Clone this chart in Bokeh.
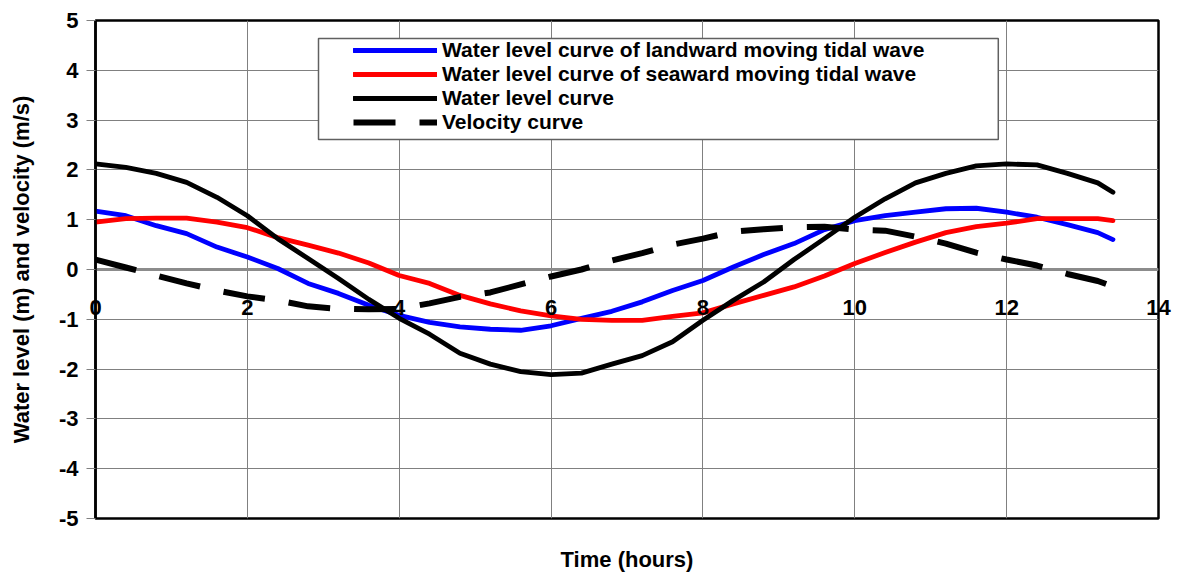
from bokeh.plotting import figure
from bokeh.models import (Legend, LegendItem, BoxAnnotation, FixedTicker,
                          Range1d, PrintfTickFormatter, Span)
from bokeh.embed import file_html
from bokeh.resources import INLINE

# ---------------- data ----------------
time_hours = [0.0, 0.4, 0.8, 1.2, 1.6, 2.0, 2.4, 2.8, 3.2, 3.6, 4.0, 4.4,
              4.8, 5.2, 5.6, 6.0, 6.4, 6.8, 7.2, 7.6, 8.0, 8.4, 8.8, 9.2,
              9.6, 10.0, 10.4, 10.8, 11.2, 11.6, 12.0, 12.4, 12.8, 13.2, 13.4]

landward = [1.17, 1.08, 0.88, 0.72, 0.45, 0.25, 0.02, -0.28, -0.48, -0.72,
            -0.92, -1.06, -1.15, -1.20, -1.22, -1.13, -0.98, -0.84, -0.65,
            -0.42, -0.22, 0.05, 0.30, 0.52, 0.80, 0.98, 1.08, 1.15, 1.22,
            1.23, 1.15, 1.05, 0.90, 0.74, 0.60]

seaward = [0.95, 1.02, 1.03, 1.03, 0.95, 0.84, 0.64, 0.49, 0.33, 0.13,
           -0.12, -0.28, -0.52, -0.69, -0.83, -0.93, -1.00, -1.02, -1.02,
           -0.94, -0.87, -0.69, -0.52, -0.35, -0.13, 0.12, 0.34, 0.55, 0.74,
           0.86, 0.93, 1.02, 1.02, 1.02, 0.98]

water_level = [2.12, 2.05, 1.93, 1.75, 1.45, 1.08, 0.62, 0.22, -0.18, -0.60,
               -0.98, -1.30, -1.68, -1.90, -2.05, -2.11, -2.08, -1.90, -1.73,
               -1.45, -1.02, -0.62, -0.25, 0.20, 0.62, 1.05, 1.42, 1.74, 1.93,
               2.08, 2.12, 2.10, 1.93, 1.74, 1.55]

velocity = [0.20, 0.04, -0.12, -0.28, -0.42, -0.54, -0.62, -0.74, -0.79,
            -0.80, -0.79, -0.68, -0.55, -0.46, -0.30, -0.14, 0.00, 0.18,
            0.33, 0.50, 0.62, 0.76, 0.81, 0.85, 0.86, 0.80, 0.78, 0.66,
            0.52, 0.34, 0.20, 0.08, -0.09, -0.23, -0.34]

x_ticks = [0, 2, 4, 6, 8, 10, 12, 14]
y_ticks = [-5, -4, -3, -2, -1, 0, 1, 2, 3, 4, 5]
x_axis_crossing = 0

series_labels = ["Water level curve of landward moving tidal wave",
                 "Water level curve of seaward moving tidal wave",
                 "Water level curve",
                 "Velocity curve"]

x_title = "Time (hours)"
y_title = "Water level (m) and velocity (m/s)"

# ---------------- figure ----------------
FONT = "Liberation Sans"
GRID = "#808080"

p = figure(width=1187, height=574, output_backend="svg", toolbar_location=None,
           x_range=Range1d(0, 14), y_range=Range1d(-5, 5),
           min_border_left=95, min_border_right=29, min_border_top=20,
           min_border_bottom=56)

p.background_fill_color = "white"
p.border_fill_color = "white"
p.outline_line_color = "black"
p.outline_line_width = 2.5
p.outline_line_alpha = 1

# bottom axis: its tick labels are pulled up (negative standoff) so that
# they sit just below the y = 0 line, as in the reference
xa = p.xaxis[0]
xa.ticker = FixedTicker(ticks=x_ticks)
xa.formatter = PrintfTickFormatter(format="%d")
xa.axis_line_color = None
xa.major_tick_line_color = None
xa.minor_tick_line_color = None
xa.major_tick_out = 0
xa.major_tick_in = 0
xa.major_label_standoff = -219
xa.major_label_text_font = FONT
xa.major_label_text_font_style = "bold"
xa.major_label_text_font_size = "22px"
xa.major_label_text_color = "black"
xa.axis_label = x_title
xa.axis_label_standoff = 229
xa.axis_label_text_font = FONT
xa.axis_label_text_font_style = "bold"
xa.axis_label_text_font_size = "22px"
xa.axis_label_text_color = "black"

ya = p.yaxis[0]
ya.ticker = FixedTicker(ticks=y_ticks)
ya.formatter = PrintfTickFormatter(format="%d")
ya.axis_line_color = "black"
ya.axis_line_width = 2.5
ya.major_tick_line_color = GRID
ya.major_tick_out = 9
ya.major_tick_in = 0
ya.minor_tick_line_color = None
ya.major_label_standoff = 8
ya.major_label_text_font = FONT
ya.major_label_text_font_style = "bold"
ya.major_label_text_font_size = "22px"
ya.major_label_text_color = "black"
ya.axis_label = y_title
ya.axis_label_standoff = 22
ya.axis_label_text_font = FONT
ya.axis_label_text_font_style = "bold"
ya.axis_label_text_font_size = "22px"
ya.axis_label_text_color = "black"

p.xgrid.ticker = FixedTicker(ticks=x_ticks)
p.ygrid.ticker = FixedTicker(ticks=y_ticks)
for g in (p.xgrid[0], p.ygrid[0]):
    g.grid_line_color = GRID
    g.grid_line_width = 1
    g.grid_line_alpha = 1

# the category axis line crossing at y = 0 (drawn below the curves)
p.add_layout(Span(location=x_axis_crossing, dimension="width",
                  line_color="#8c8c8c", line_width=3, level="underlay"))

# ---------------- curves ----------------
r_land = p.line(time_hours, landward, line_color="#0000FF", line_width=4.8,
                line_join="round", line_cap="round")
r_sea = p.line(time_hours, seaward, line_color="#FF0000", line_width=4.8,
               line_join="round", line_cap="round")
r_wl = p.line(time_hours, water_level, line_color="black", line_width=4.8,
              line_join="round", line_cap="round")
r_vel = p.line(time_hours, velocity, line_color="black", line_width=6,
               line_dash="42 24", line_join="round")

# ---------------- legend ----------------
box = BoxAnnotation(left=2.937, right=11.89, top=4.64, bottom=2.61,
                    fill_color="white", fill_alpha=1,
                    line_color="#606060", line_width=1.5, line_alpha=1)
p.add_layout(box)

legend = Legend(items=[LegendItem(label=lab, renderers=[r]) for lab, r in
                       zip(series_labels, [r_land, r_sea, r_wl, r_vel])],
                location=(258, 384), orientation="vertical",
                border_line_alpha=0, background_fill_alpha=0,
                padding=0, margin=0, spacing=0,
                glyph_width=84, glyph_height=20, label_height=20,
                label_standoff=5,
                label_text_font=FONT, label_text_font_style="bold",
                label_text_font_size="21px", label_text_color="black")
p.add_layout(legend)

open("out.html", "w").write(file_html(p, INLINE))
